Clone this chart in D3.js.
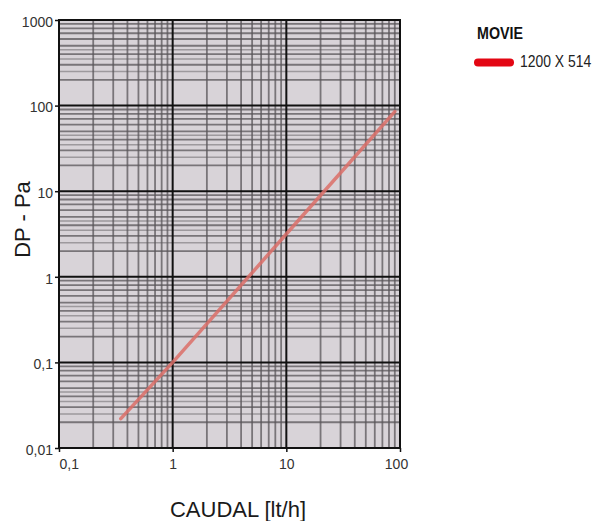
<!DOCTYPE html>
<html>
<head>
<meta charset="utf-8">
<script src="https://cdn.jsdelivr.net/npm/d3@7"></script>
<style>
  html, body { margin: 0; padding: 0; background: #ffffff; }
  svg { display: block; font-family: "Liberation Sans", Arial, sans-serif; }
</style>
</head>
<body>
<svg id="chart" width="601" height="521"></svg>
<script>
// ---- data ----
const seriesName = "1200 X 514";
const legendTitle = "MOVIE";
const flowValues = [0.35, 1, 10, 90];        // CAUDAL [lt/h]
const pressureValues = [0.022, 0.1, 3.16, 85]; // DP - Pa
const xTickValues = [0.1, 1, 10, 100];
const xTickLabels = ["0,1", "1", "10", "100"];
const yTickValues = [0.01, 0.1, 1, 10, 100, 1000];
const yTickLabels = ["0,01", "0,1", "1", "10", "100", "1000"];
const xMinorFactors = [2, 3, 4, 5, 6, 7, 8, 9];
const yMinorFactors = [2, 3, 4, 5, 6, 7, 8, 9];
const yExtraFactors = [2.5, 3.5, 4.5];
const xTitle = "CAUDAL [lt/h]";
const yTitle = "DP - Pa";

// ---- layout ----
const svg = d3.select("#chart");
const L = 59, R = 400, T = 20, B = 448;
const x = d3.scaleLog().domain([0.1, 100]).range([L, R]);
const y = d3.scaleLog().domain([0.01, 1000]).range([B, T]);

// plot background
svg.append("rect").attr("x", L).attr("y", T).attr("width", R - L).attr("height", B - T)
  .attr("fill", "#d8d3d8");

const decadesX = [0.1, 1, 10];
const decadesY = [0.01, 0.1, 1, 10, 100];
const minorX = [], minorY = [], extraY = [];
decadesX.forEach(d => xMinorFactors.forEach(k => minorX.push(d * k)));
decadesY.forEach(d => yMinorFactors.forEach(k => minorY.push(d * k)));
decadesY.forEach(d => yExtraFactors.forEach(k => extraY.push(d * k)));

const grid = svg.append("g");
grid.selectAll(".ey").data(extraY).enter().append("line")
  .attr("x1", L).attr("x2", R).attr("y1", d => y(d)).attr("y2", d => y(d))
  .attr("stroke", "#6e6a6e").attr("stroke-width", 1.5).attr("opacity", 0.55);
grid.selectAll(".my").data(minorY).enter().append("line")
  .attr("x1", L).attr("x2", R).attr("y1", d => y(d)).attr("y2", d => y(d))
  .attr("stroke", "#5a565a").attr("stroke-width", 1.8).attr("opacity", 0.75);
grid.selectAll(".mx").data(minorX).enter().append("line")
  .attr("y1", T).attr("y2", B).attr("x1", d => x(d)).attr("x2", d => x(d))
  .attr("stroke", "#5a565a").attr("stroke-width", 1.8).attr("opacity", 0.75);

// major grid
grid.selectAll(".My").data(yTickValues).enter().append("line")
  .attr("x1", L).attr("x2", R).attr("y1", d => y(d)).attr("y2", d => y(d))
  .attr("stroke", "#111").attr("stroke-width", 2);
grid.selectAll(".Mx").data(xTickValues).enter().append("line")
  .attr("y1", T).attr("y2", B).attr("x1", d => x(d)).attr("x2", d => x(d))
  .attr("stroke", "#111").attr("stroke-width", 2);

// frame
svg.append("rect").attr("x", L).attr("y", T).attr("width", R - L).attr("height", B - T)
  .attr("fill", "none").attr("stroke", "#111").attr("stroke-width", 2);

// series line
const line = d3.line().x((d, i) => x(flowValues[i])).y(d => y(d));
svg.append("path").datum(pressureValues).attr("d", line)
  .attr("fill", "none").attr("stroke", "#dc6f68").attr("stroke-width", 3.5)
  .attr("stroke-opacity", 0.85).attr("stroke-linecap", "round");

// axes
const xAxis = d3.axisBottom(x).tickValues(xTickValues)
  .tickFormat((d, i) => xTickLabels[i]).tickSize(4).tickSizeOuter(0);
const gx = svg.append("g").attr("transform", `translate(0,${B})`).call(xAxis);
gx.select(".domain").remove();
gx.selectAll(".tick line").attr("stroke", "#111").attr("stroke-width", 1.5);
gx.selectAll(".tick text")
  .attr("y", 21).attr("dy", null)
  .attr("font-size", 14).attr("fill", "#333")
  .attr("font-family", "Liberation Sans, Arial, sans-serif")
  .attr("text-anchor", (d, i) => i === 0 ? "start" : "middle")
  .attr("dx", (d, i) => i === xTickValues.length - 1 ? -4 : 0);

const yAxis = d3.axisLeft(y).tickValues(yTickValues)
  .tickFormat((d, i) => yTickLabels[i]).tickSize(4).tickSizeOuter(0);
const gy = svg.append("g").attr("transform", `translate(${L},0)`).call(yAxis);
gy.select(".domain").remove();
gy.selectAll(".tick line").attr("stroke", "#111").attr("stroke-width", 1.5);
gy.selectAll(".tick text")
  .attr("x", -6).attr("dy", "0.45em")
  .attr("font-size", 14).attr("fill", "#333")
  .attr("font-family", "Liberation Sans, Arial, sans-serif");

// axis titles
svg.append("text").attr("x", 238).attr("y", 516.5).attr("text-anchor", "middle")
  .attr("font-size", 22).attr("fill", "#1a1a1a").text(xTitle);
svg.append("text").attr("transform", "translate(29.5,219.5) rotate(-90)")
  .attr("text-anchor", "middle").attr("font-size", 22).attr("fill", "#1a1a1a").text(yTitle);

// legend
svg.append("text").attr("transform", "translate(477,39.3) scale(0.84,1)")
  .attr("font-size", 17).attr("font-weight", "bold")
  .attr("fill", "#111").text(legendTitle);
svg.append("line").attr("x1", 478).attr("x2", 510).attr("y1", 62.5).attr("y2", 62.5)
  .attr("stroke", "#e30613").attr("stroke-width", 8).attr("stroke-linecap", "round");
svg.append("text").attr("transform", "translate(520,66.7) scale(0.82,1)")
  .attr("font-size", 17).attr("fill", "#222").text(seriesName);
</script>
</body>
</html>
